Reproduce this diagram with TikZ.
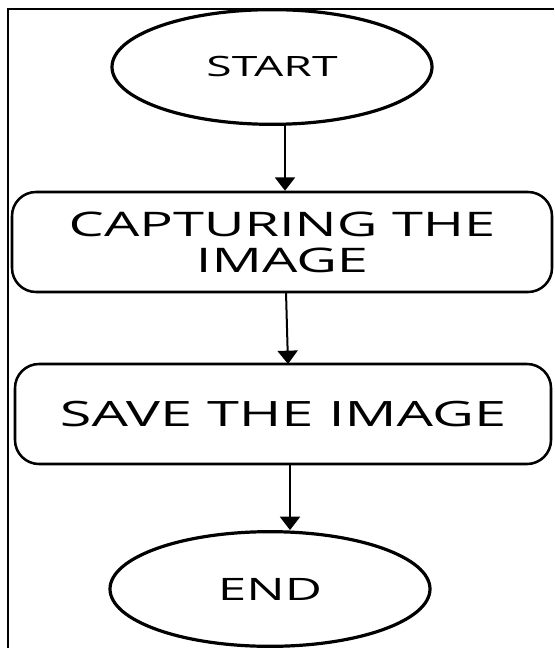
\documentclass[tikz,border=0pt]{standalone}
\usepackage{fontspec}
\setmainfont{Open Sans}
\newfontfamily\diagfont[FakeStretch=1.65]{Open Sans}
\usetikzlibrary{shapes.geometric,arrows.meta}
\begin{document}
\begin{tikzpicture}[x=0.75pt,y=-0.75pt,
  term/.style={draw, ellipse, line width=2.4pt, minimum width=240pt, minimum height=86pt, inner sep=0pt},
  proc/.style={draw, rounded corners=18pt, line width=1.9pt, minimum height=75pt, align=center, inner sep=0pt},
  flow/.style={line width=1.5pt, -{Triangle[width=15pt,length=10pt]}},
  frame/.style={line width=1.5pt}]
\useasboundingbox (0,0) rectangle (554,648);
\coordinate (fbl) at (8,648);
\coordinate (ftl) at (8,9);
\coordinate (ftr) at (554,9);
\draw[frame] (fbl) -- (ftl) -- (ftr);

\node[term, font={\diagfont\fontsize{21pt}{24pt}\selectfont}] (start) at (272,67) {START};
\node[proc, minimum width=405pt, font={\diagfont\fontsize{25.4pt}{27pt}\selectfont}] (cap) at (282,242) {CAPTURING THE\\IMAGE};
\node[proc, minimum width=402pt, font={\diagfont\fontsize{26.2pt}{27pt}\selectfont}] (save) at (283,414) {SAVE THE IMAGE};
\node[term, font={\diagfont\fontsize{23.2pt}{26pt}\selectfont}] (end) at (270,589) {END};

\coordinate (a1s) at (285,124);
\coordinate (a2s) at (286,292);
\coordinate (a2e) at (288,364);
\coordinate (a3s) at (290,464);
\draw[flow] (a1s) -- (a1s |- cap.north);
\draw[flow] (a2s) -- (a2e);
\draw[flow] (a3s) -- (a3s |- end.north);
\end{tikzpicture}
\end{document}
